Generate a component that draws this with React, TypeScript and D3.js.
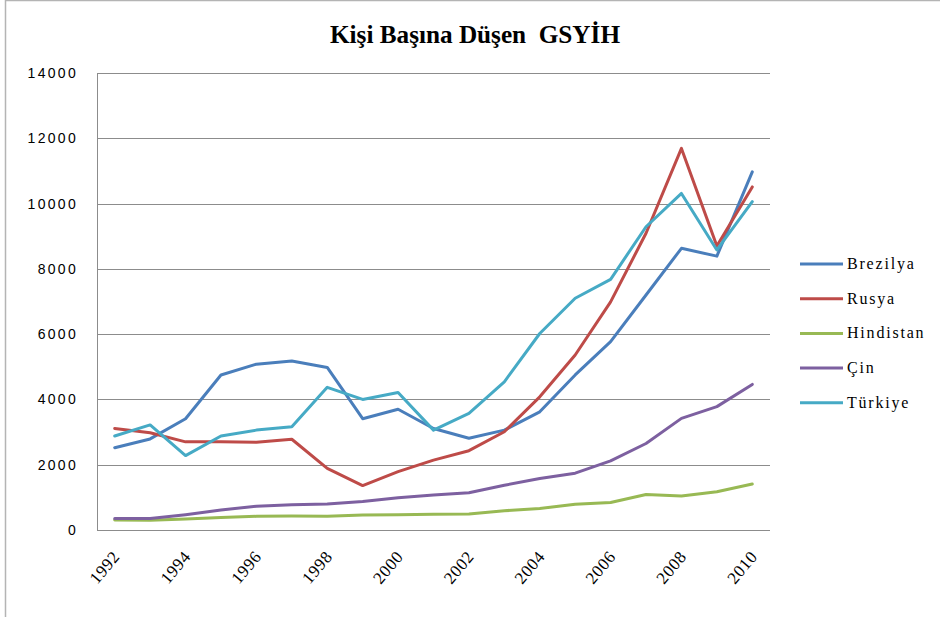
import React from "react";
import * as d3 from "d3";

const years = [1992,1993,1994,1995,1996,1997,1998,1999,2000,2001,2002,2003,2004,2005,2006,2007,2008,2009,2010];
const seriesNames = ["Brezilya", "Rusya", "Hindistan", "Çin", "Türkiye"];
const brezilya = [2520,2790,3410,4750,5080,5180,4980,3410,3700,3110,2810,3060,3620,4750,5770,7200,8630,8390,10970];
const rusya = [3110,2980,2700,2700,2690,2780,1890,1360,1790,2140,2430,3010,4080,5360,6990,9090,11690,8700,10510];
const hindistan = [310,300,340,380,420,430,420,460,470,480,490,590,660,790,840,1090,1040,1170,1410];
const cin = [350,350,470,610,730,770,800,870,990,1070,1140,1370,1580,1740,2120,2650,3420,3780,4460];
const turkiye = [2880,3220,2280,2880,3060,3160,4370,4000,4210,3060,3570,4540,6020,7100,7680,9290,10310,8580,10060];
const yTicks = [0,2000,4000,6000,8000,10000,12000,14000];
const xTickYears = [1992,1994,1996,1998,2000,2002,2004,2006,2008,2010];
const colors = ["#4a7ebb", "#be4b48", "#98b954", "#7d60a0", "#46aac5"];
const titleText = "Kişi Başına Düşen\u00a0 GSYİH";

const allSeries = [brezilya, rusya, hindistan, cin, turkiye];

export default function App() {
  const W = 940, H = 617;
  const left = 97, right = 770, top = 73, bottom = 530;
  const x = d3.scaleBand<number>().domain(years).range([left, right]);
  const xc = (yr: number) => (x(yr) as number) + x.bandwidth() / 2;
  const y = d3.scaleLinear().domain([0, 14000]).range([bottom, top]);
  const line = d3.line<number>().x((_, i) => xc(years[i])).y(d => y(d));

  return (
    <svg width={W} height={H} style={{ position: "absolute", left: 0, top: 0, background: "#fff" }}>
      <rect x={0} y={0} width={W} height={H} fill="#fff" />
      <line x1={5} y1={0.5} x2={W} y2={0.5} stroke="#b4b4b4" strokeWidth={1.5} />
      <line x1={5.5} y1={0} x2={5.5} y2={H} stroke="#b4b4b4" strokeWidth={1.5} />
      <text x={475} y={43} textAnchor="middle" fontFamily="Liberation Serif" fontWeight="bold" fontSize={25}
        textLength={290} lengthAdjust="spacingAndGlyphs">{titleText}</text>
      {yTicks.map(t => (
        <g key={t}>
          <line x1={left} x2={right} y1={Math.round(y(t)) + 0.5} y2={Math.round(y(t)) + 0.5} stroke="#8c8c8c" strokeWidth={1} />
          <text x={78} y={y(t) + 5} textAnchor="end" fontFamily="Liberation Sans" fontSize={14} letterSpacing={2.3} fill="#000">{t}</text>
        </g>
      ))}
      <line x1={left + 0.5} x2={left + 0.5} y1={top} y2={bottom} stroke="#8c8c8c" strokeWidth={1} />
      {xTickYears.map(yr => (
        <text key={yr} transform={`translate(${xc(yr) + 6},${557}) rotate(-50)`} textAnchor="end"
          fontFamily="Liberation Serif" fontSize={17} letterSpacing={0.6} fill="#000">{yr}</text>
      ))}
      {allSeries.map((s, i) => (
        <path key={i} d={line(s) as string} fill="none" stroke={colors[i]} strokeWidth={3} strokeLinejoin="round" strokeLinecap="round" />
      ))}
      {seriesNames.map((n, i) => {
        const ly = 264 + i * 34.7;
        return (
          <g key={n}>
            <line x1={800} x2={843} y1={ly} y2={ly} stroke={colors[i]} strokeWidth={3} />
            <text x={847} y={ly + 5} fontFamily="Liberation Serif" fontSize={16} letterSpacing={1.8} fill="#000">{n}</text>
          </g>
        );
      })}
    </svg>
  );
}
